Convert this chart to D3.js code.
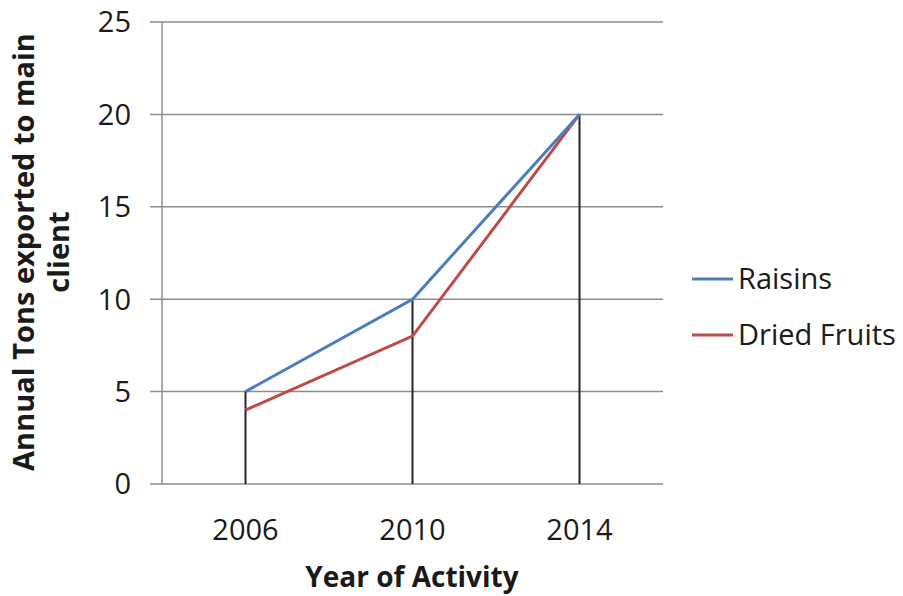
<!DOCTYPE html>
<html>
<head>
<meta charset="utf-8">
<script src="https://cdn.jsdelivr.net/npm/d3@7"></script>
<style>
  body { margin: 0; background: #fff; }
  text { font-family: "Open Sans", sans-serif; fill: #1a1a1a; }
</style>
</head>
<body>
<div id="chart"></div>
<script>
const years = ["2006", "2010", "2014"];
const raisins = [5, 10, 20];
const driedFruits = [4, 8, 20];
const yTicks = [0, 5, 10, 15, 20, 25];

const series = [
  {name: "Raisins", values: raisins, color: "#4a7ebb"},
  {name: "Dried Fruits", values: driedFruits, color: "#be4b48"}
];

const width = 903, height = 596;
const plot = {left: 162, right: 663, top: 22, bottom: 484};

const svg = d3.select("#chart").append("svg")
  .attr("width", width)
  .attr("height", height);

const x = d3.scaleBand()
  .domain(years)
  .range([plot.left, plot.right]);

const y = d3.scaleLinear()
  .domain([0, 25])
  .range([plot.bottom, plot.top]);

// gridlines + tick marks
svg.append("g")
  .selectAll("line")
  .data(yTicks)
  .enter().append("line")
  .attr("x1", plot.left - 12)
  .attr("x2", plot.right)
  .attr("y1", d => y(d))
  .attr("y2", d => y(d))
  .attr("stroke", "#8c8c8c")
  .attr("stroke-width", 1.5);

// y axis line
svg.append("line")
  .attr("x1", plot.left).attr("x2", plot.left)
  .attr("y1", plot.top).attr("y2", plot.bottom)
  .attr("stroke", "#8c8c8c")
  .attr("stroke-width", 1.5);

// y tick labels
svg.append("g")
  .selectAll("text")
  .data(yTicks)
  .enter().append("text")
  .attr("x", 131)
  .attr("y", d => y(d))
  .attr("dy", "0.36em")
  .attr("text-anchor", "end")
  .style("font-size", "29px")
  .text(d => d);

// x tick labels
svg.append("g")
  .selectAll("text")
  .data(years)
  .enter().append("text")
  .attr("x", d => x(d) + x.bandwidth() / 2)
  .attr("y", 540)
  .attr("text-anchor", "middle")
  .style("font-size", "29px")
  .text(d => d);

// drop lines from the higher value to the axis
svg.append("g")
  .selectAll("line")
  .data(years)
  .enter().append("line")
  .attr("x1", d => x(d) + x.bandwidth() / 2)
  .attr("x2", d => x(d) + x.bandwidth() / 2)
  .attr("y1", (d, i) => y(d3.max(series, s => s.values[i])))
  .attr("y2", plot.bottom)
  .attr("stroke", "#262626")
  .attr("stroke-width", 2);

const line = d3.line()
  .x((d, i) => x(years[i]) + x.bandwidth() / 2)
  .y(d => y(d));

svg.append("g")
  .selectAll("path")
  .data(series.slice().reverse())
  .enter().append("path")
  .attr("d", d => line(d.values))
  .attr("fill", "none")
  .attr("stroke", d => d.color)
  .attr("stroke-width", 3);

// legend
const legend = svg.append("g")
  .selectAll("g")
  .data(series)
  .enter().append("g")
  .attr("transform", (d, i) => `translate(692, ${279 + i * 56})`);

legend.append("line")
  .attr("x1", 0).attr("x2", 41)
  .attr("stroke", d => d.color)
  .attr("stroke-width", 3);

legend.append("text")
  .attr("x", 46)
  .attr("dy", "0.36em")
  .style("font-size", "29px")
  .text(d => d.name);

// axis titles
svg.append("text")
  .attr("x", 412)
  .attr("y", 587)
  .attr("text-anchor", "middle")
  .style("font-size", "28px")
  .style("font-weight", "bold")
  .text("Year of Activity");

const yTitle = svg.append("text")
  .attr("transform", "translate(0, 252) rotate(-90)")
  .attr("text-anchor", "middle")
  .style("font-size", "29px")
  .style("font-weight", "bold");

yTitle.append("tspan").attr("x", 0).attr("y", 34).text("Annual Tons exported to main");
yTitle.append("tspan").attr("x", 0).attr("y", 69).text("client");
</script>
</body>
</html>
